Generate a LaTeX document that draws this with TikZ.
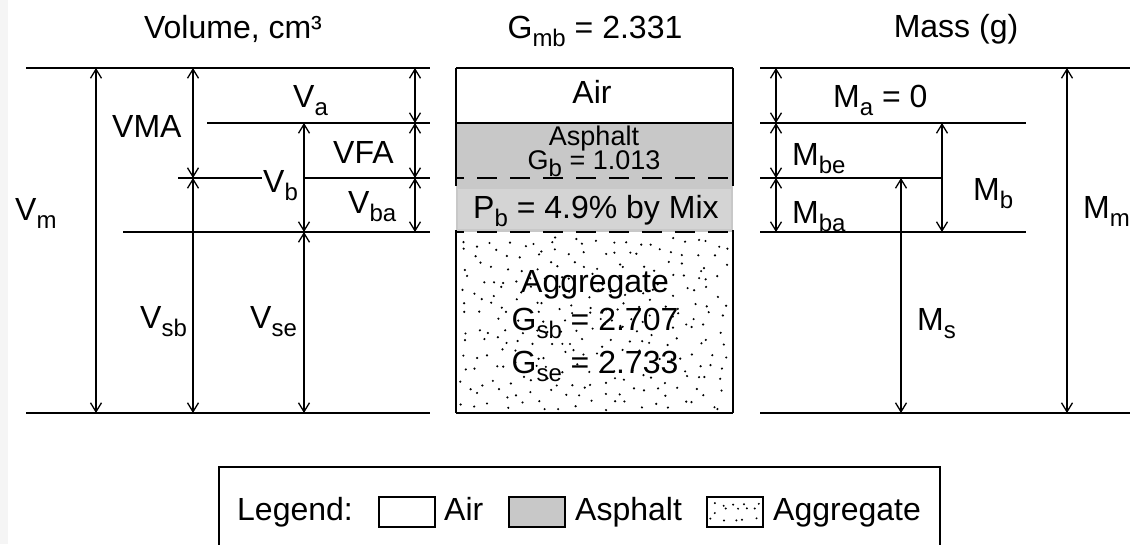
\documentclass[tikz,border=0pt]{standalone}
\usepackage{fontspec}
\setmainfont{Liberation Sans}
\usetikzlibrary{arrows.meta}
\newcommand\sbs[1]{\raisebox{-0.26em}{\fontsize{24}{26}\selectfont #1}}
\definecolor{asph}{RGB}{200,200,200}
\definecolor{pbbg}{RGB}{212,212,212}
\definecolor{strip}{RGB}{245,245,245}
\begin{document}
\begin{tikzpicture}[x=1pt,y=-1pt,
  every node/.style={inner sep=0pt, font=\fontsize{32}{38}\selectfont},
  lvl/.style={line width=1.5pt},
  dim/.style={line width=1.3pt, {Straight Barb[length=9pt,width=11pt]}-{Straight Barb[length=9pt,width=11pt]}},
  lbl/.style={anchor=base west},
  ctr/.style={anchor=base},
  small/.style={font=\fontsize{27}{30}\selectfont},
  dashln/.style={line width=1.5pt, dash pattern=on 20pt off 13pt, dash phase=12pt},
  dot/.style={fill=black},
]
\clip (0,0) rectangle (1130,544);
\fill[white] (0,0) rectangle (1130,544);
\fill[strip] (0,0) rectangle (8,544);

% ---------------- left panel: volume ----------------
\node[ctr] (volt) at (233,38) {Volume, cm³};
\draw[lvl] (26,68) -- (430,68);
\draw[lvl] (26,413) -- (430,413);
\draw[lvl] (207,123) -- (430,123);
\draw[lvl] (178,178) -- (262,178);
\draw[lvl] (304,178) -- (430,178);
\draw[lvl] (123,232) -- (430,232);
\draw[dim] (96,68) -- (96,413);
\draw[dim] (193,68) -- (193,178);
\draw[dim] (193,178) -- (193,413);
\draw[dim] (304,123) -- (304,232);
\draw[dim] (304,232) -- (304,413);
\draw[dim] (415,68) -- (415,123);
\draw[dim] (415,123) -- (415,178);
\draw[dim] (415,178) -- (415,232);
\node[lbl] (vma) at (112,137) {VMA};
\node[lbl] (va) at (293,107) {V\sbs{a}};
\node[lbl] (vfa) at (333,163) {VFA};
\node[lbl] (vb) at (263,192) {V\sbs{b}};
\node[lbl] (vba) at (348,213) {V\sbs{ba}};
\node[lbl] (vm) at (15,220) {V\sbs{m}};
\node[lbl] (vsb) at (140,328) {V\sbs{sb}};
\node[lbl] (vse) at (250,328) {V\sbs{se}};

% ---------------- middle column ----------------
\node[ctr] (gmb) at (595,38) {G\sbs{mb} = 2.331};
\fill[asph] (456,123) rectangle (733,232);
\pgfmathsetseed{4242}
\foreach \cx in {0,...,19}{
  \foreach \cy in {0,...,13}{
    \pgfmathsetmacro\rx{460+\cx*13.5+rnd*12}
    \pgfmathsetmacro\ry{236+\cy*12.6+rnd*11}
    \fill[dot] (\rx,\ry) circle (1.2pt);
  }
}
\node[fill=pbbg, minimum width=273pt, minimum height=40pt] (pbbox) at (594.5,209) {};
\draw[lvl] (456,68) -- (733,68);
\draw[lvl] (456,123) -- (733,123);
\draw[dashln] (456,178) -- (733,178);
\draw[dashln] (456,232) -- (733,232);
\draw[lvl] (456,413) -- (733,413);
\draw[lvl] (456,68) -- (456,186);
\draw[lvl] (456,230) -- (456,413);
\draw[lvl] (733,68) -- (733,186);
\draw[lvl] (733,230) -- (733,413);
\node[ctr] (air) at (592,103) {Air};
\node[ctr, small] (asp) at (594,145) {Asphalt};
\node[ctr, small] (gb) at (594,169) {G\sbs{b} = 1.013};
\node[lbl] (pb) at (473,218) {P\sbs{b} = 4.9\% by Mix};
\node[ctr] (agg) at (595,292) {Aggregate};
\node[ctr] (gsb) at (595,330) {G\sbs{sb} = 2.707};
\node[ctr] (gse) at (595,373) {G\sbs{se} = 2.733};

% ---------------- right panel: mass ----------------
\node[ctr] (masst) at (956,37) {Mass (g)};
\draw[lvl] (760,68) -- (1130,68);
\draw[lvl] (760,123) -- (1026,123);
\draw[lvl] (760,178) -- (942,178);
\draw[lvl] (760,232) -- (1026,232);
\draw[lvl] (760,413) -- (1130,413);
\draw[dim] (776,68) -- (776,123);
\draw[dim] (776,123) -- (776,178);
\draw[dim] (776,178) -- (776,232);
\draw[dim] (942,123) -- (942,232);
\draw[dim] (901,178) -- (901,413);
\draw[dim] (1067,68) -- (1067,413);
\node[lbl] (ma) at (833,107) {M\sbs{a} = 0};
\node[lbl] (mbe) at (792,165) {M\sbs{be}};
\node[lbl] (mba) at (792,223) {M\sbs{ba}};
\node[lbl] (mb) at (973,200) {M\sbs{b}};
\node[lbl] (ms) at (917,330) {M\sbs{s}};
\node[lbl] (mm) at (1083,218) {M\sbs{m}};

% ---------------- legend ----------------
\draw[lvl, fill=white] (219,467) rectangle (940,570);
\node[lbl] (legt) at (237,520) {Legend:};
\draw[line width=1.4pt, fill=white] (379,497) rectangle (435,527);
\node[lbl] (legair) at (444,520) {Air};
\draw[line width=1.4pt, fill=asph] (509,497) rectangle (565,527);
\node[lbl] (legasp) at (575,520) {Asphalt};
\draw[line width=1.4pt, fill=white] (707,497) rectangle (763,527);
\pgfmathsetseed{77}
\foreach \cx in {0,...,4}{
  \foreach \cy in {0,...,2}{
    \pgfmathsetmacro\rx{710+\cx*10.5+rnd*8}
    \pgfmathsetmacro\ry{500+\cy*8+rnd*6}
    \fill[dot] (\rx,\ry) circle (1.1pt);
  }
}
\node[lbl] (legagg) at (773,520) {Aggregate};
\end{tikzpicture}
\end{document}
